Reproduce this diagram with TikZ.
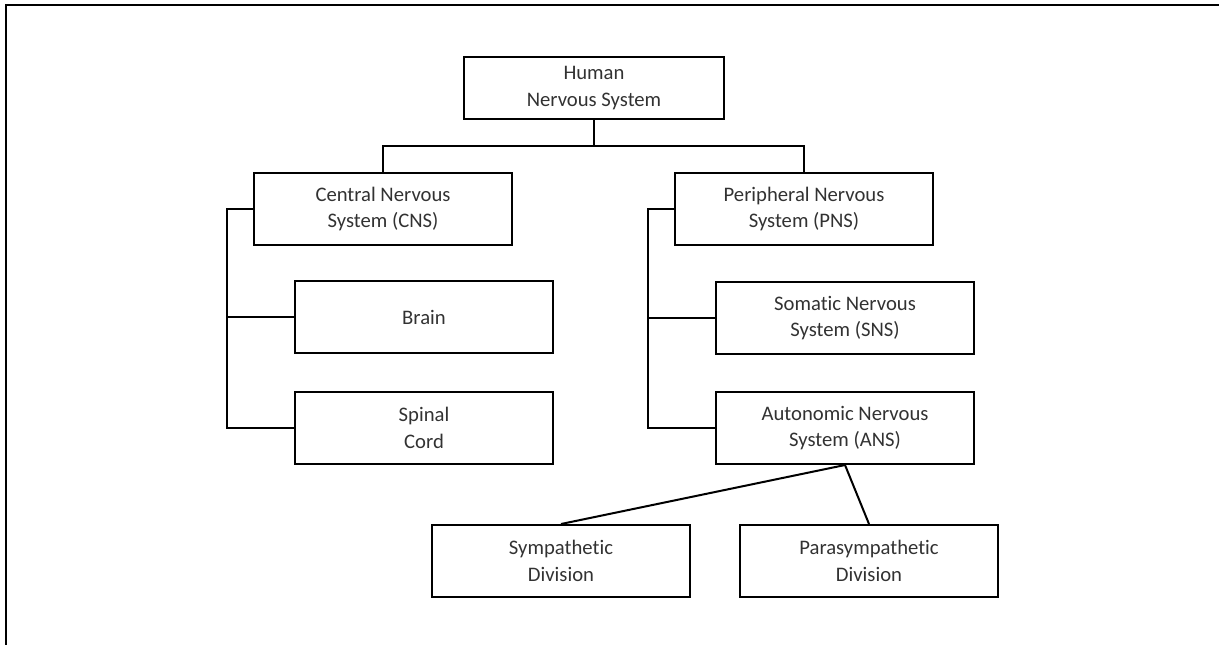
\documentclass[tikz,border=0pt]{standalone}
\usepackage{fontspec}
\setmainfont{Carlito}[Ligatures=CommonOff]
\usepackage{xcolor}
\usepackage{tikz}
\usetikzlibrary{calc,positioning}
\definecolor{labelgray}{RGB}{50,50,50}

\begin{document}
\begin{tikzpicture}[
  x=0.75pt, y=-0.75pt,
  font=\fontsize{15.5}{20}\selectfont,
  unit/.style={draw, line width=1.5pt, align=center, text=labelgray, minimum width=193.5pt, minimum height=54pt, inner sep=0pt},
  top/.style={unit, minimum width=195pt, minimum height=46.5pt},
  link/.style={line width=1.5pt},
  frame/.style={line width=2.2pt}
]
\useasboundingbox (0,0) rectangle (1219,644);
\draw[frame] (6,650) |- (1225,5);
\node[top] (hns) at (594,88) {Human\\Nervous System};
\node[unit] (cns) at (383,209) {Central Nervous\\System (CNS)};
\node[unit] (pns) at (804,209) {Peripheral Nervous\\System (PNS)};
\node[unit] (brain) at (424,317) {Brain};
\node[unit] (spinal) at (424,428) {Spinal\\Cord};
\node[unit] (sns) at (845,318) {Somatic Nervous\\System (SNS)};
\node[unit] (ans) at (845,428) {Autonomic Nervous\\System (ANS)};
\node[unit] (symp) at (561,561) {Sympathetic\\Division};
\node[unit] (para) at (869,561) {Parasympathetic\\Division};
\draw[link] (hns.south) -- ++(0,26) coordinate (split) -| (cns.north);
\draw[link] (split) -| (pns.north);
\draw[link] (cns.west) -- ++(-26,0) coordinate (cnsbus) |- (brain.west);
\draw[link] (cnsbus) |- (spinal.west);
\draw[link] (pns.west) -- ++(-26,0) coordinate (pnsbus) |- (sns.west);
\draw[link] (pnsbus) |- (ans.west);
\draw[link] (ans.south) -- (symp.north);
\draw[link] (ans.south) -- (para.north);
\end{tikzpicture}
\end{document}
